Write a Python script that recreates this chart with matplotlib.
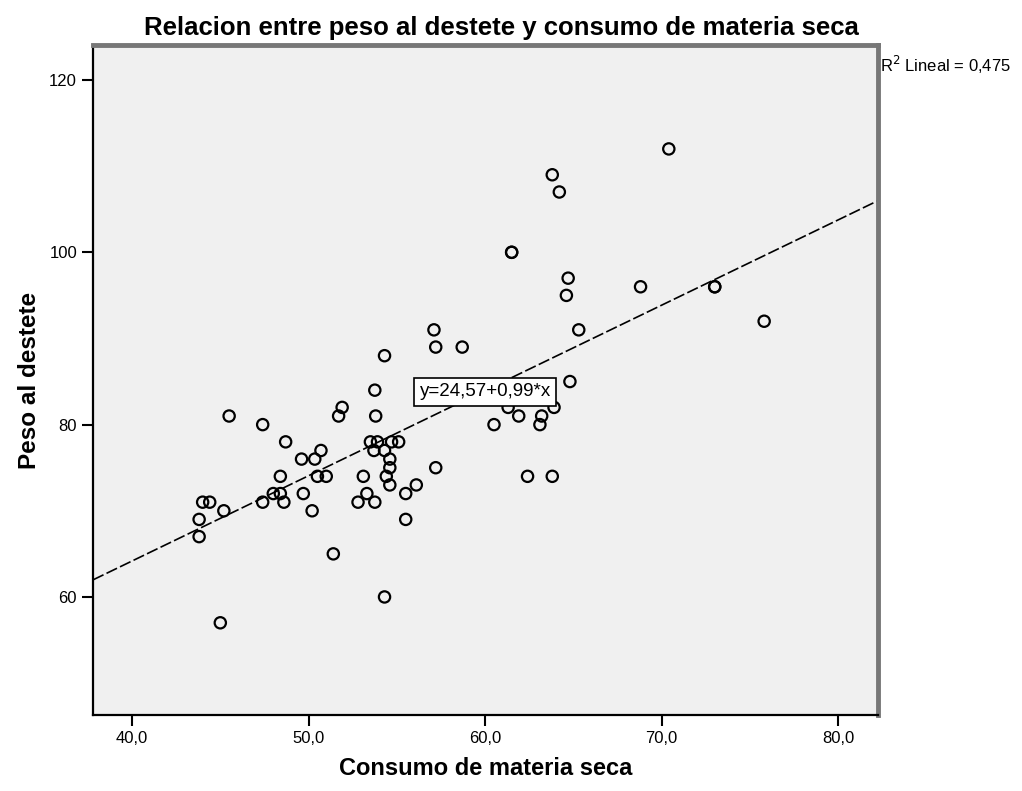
import numpy as np
from matplotlib import pyplot as plt

# consumo de materia seca (x) y peso al destete (y)
consumo = [70.4, 63.8, 64.2, 61.5, 61.5, 64.7, 64.6, 68.8, 73.0, 73.0,
           75.8, 65.3, 64.8, 61.9, 63.2, 63.1, 61.3, 60.5, 63.9, 62.4,
           63.8, 57.1, 57.2, 58.7, 54.3, 53.75, 53.8, 51.9, 51.7, 53.5,
           53.9, 53.7, 54.3, 54.7, 55.1, 54.6, 54.6, 54.4, 54.6, 53.1,
           53.3, 52.8, 53.75, 55.5, 56.1, 55.5, 57.2, 51.4, 54.3, 50.7,
           50.35, 49.6, 50.5, 51.0, 49.7, 50.2, 45.5, 47.4, 48.7, 48.4,
           48.0, 48.4, 47.4, 48.6, 44.0, 44.4, 45.2, 43.8, 43.8, 45.0]
peso = [112, 109, 107, 100, 100, 97, 95, 96, 96, 96,
        92, 91, 85, 81, 81, 80, 82, 80, 82, 74,
        74, 91, 89, 89, 88, 84, 81, 82, 81, 78,
        78, 77, 77, 78, 78, 76, 75, 74, 73, 74,
        72, 71, 71, 72, 73, 69, 75, 65, 60, 77,
        76, 76, 74, 74, 72, 70, 81, 80, 78, 74,
        72, 72, 71, 71, 71, 71, 70, 69, 67, 57]

# recta de ajuste y R2 tal como aparecen en el grafico
intercepto = 24.57
pendiente = 0.99
r2 = 0.475

xticks = [40, 50, 60, 70, 80]
xticklabels = ['40,0', '50,0', '60,0', '70,0', '80,0']
yticks = [60, 80, 100, 120]

plt.rcParams['font.family'] = ['Liberation Sans', 'DejaVu Sans']

fig = plt.figure(figsize=(10.22, 7.91), dpi=100)
ax = fig.add_axes([0.091, 0.0961, 0.7678, 0.847])
ax.set_facecolor('#f0f0f0')

ax.scatter(consumo, peso, s=66, facecolors='none', edgecolors='black',
           linewidths=1.6, zorder=3)

xlim = (37.79, 82.23)
xs = np.array(xlim)
ax.plot(xs, intercepto + pendiente * xs, color='black', lw=1.2,
        linestyle=(0, (7, 2)), zorder=2)

ax.text(60.0, 83.8, 'y=24,57+0,99*x', ha='center', va='center', fontsize=13.5,
        bbox=dict(boxstyle='square,pad=0.3', facecolor='white',
                  edgecolor='black', linewidth=1.2), zorder=4)

ax.set_xlim(*xlim)
ax.set_ylim(46.3, 124.06)
ax.set_xticks(xticks)
ax.set_xticklabels(xticklabels, fontsize=12)
ax.set_yticks(yticks)
ax.set_yticklabels([str(t) for t in yticks], fontsize=12)
ax.tick_params(direction='out', length=8, width=1.5, color='black')

for s in ['left', 'bottom']:
    ax.spines[s].set_color('black')
    ax.spines[s].set_linewidth(1.6)
for s in ['top', 'right']:
    ax.spines[s].set_color('#777777')
    ax.spines[s].set_linewidth(3.5)

ax.set_xlabel('Consumo de materia seca', fontsize=17, fontweight='bold', labelpad=8)
ax.set_ylabel('Peso al destete', fontsize=17.5, fontweight='bold', labelpad=6)
# titulo algo desplazado a la derecha, como en el original
ax.set_title('Relacion entre peso al destete y consumo de materia seca',
             fontsize=18.5, fontweight='bold', pad=7, x=0.521)

fig.text(0.861, 0.918, 'R$^2$ Lineal = ' + str(r2).replace('.', ','),
         fontsize=12, ha='left', va='center')

plt.savefig('out.png', dpi=100)
